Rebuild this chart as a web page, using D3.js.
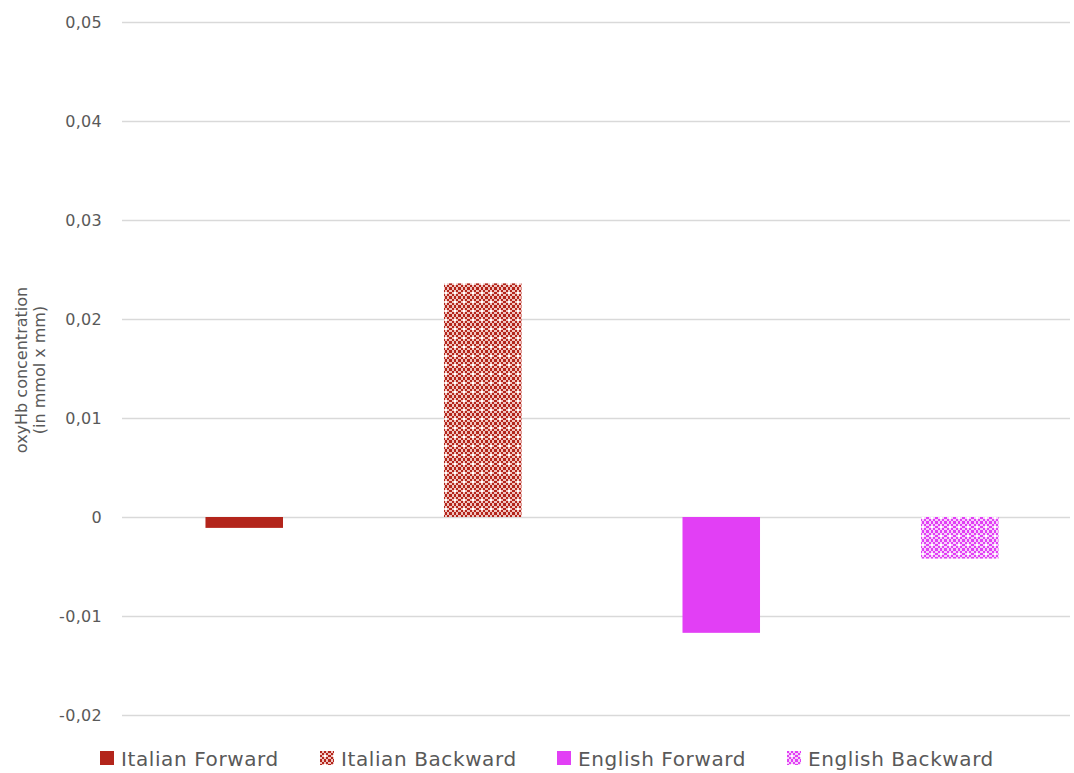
<!DOCTYPE html>
<html><head><meta charset="utf-8">
<script src="https://cdn.jsdelivr.net/npm/d3@7"></script>
<style>body{margin:0;background:#fff;} svg{display:block;}</style>
</head><body>
<svg id="c" width="1074" height="773"></svg>
<script>
const series = ["Italian Forward", "Italian Backward", "English Forward", "English Backward"];
const values = [-0.0011, 0.0236, -0.0117, -0.0042];
const yTicks = [-0.02, -0.01, 0, 0.01, 0.02, 0.03, 0.04, 0.05];
const yTickLabels = ["-0,02", "-0,01", "0", "0,01", "0,02", "0,03", "0,04", "0,05"];
const axisTitle = ["oxyHb concentration", "(in mmol x mm)"];

const svg = d3.select("#c");
const font = "DejaVu Sans, Verdana, sans-serif";
const textColor = "#595959";
const red = "#b3251b", mag = "#e23ff5";

const defs = svg.append("defs");
function checker(id, col, light) {
  const p = defs.append("pattern").attr("id", id).attr("patternUnits", "userSpaceOnUse")
    .attr("width", 9).attr("height", 9);
  p.append("rect").attr("width", 9).attr("height", 9).attr("fill", light);
  for (let i = 0; i < 9; i += 2) for (let j = 0; j < 9; j += 2) {
    if (((i + j) / 2) % 2 === 0) p.append("rect").attr("x", i).attr("y", j).attr("width", 2).attr("height", 2).attr("fill", col);
  }
  p.append("rect").attr("x", 4).attr("y", 4).attr("width", 2).attr("height", 2).attr("fill", "#fff");
}
checker("patRed", red, "#f0c4c0");
checker("patMag", mag, "#f7d0fb");
const fills = [red, "url(#patRed)", mag, "url(#patMag)"];

const y = d3.scaleLinear().domain([-0.02, 0.05]).range([715, 22]);
const x = d3.scaleBand().domain(series).range([122, 1082]).paddingInner(0.675).paddingOuter(0.35);

// grid
const grid = svg.append("g").call(d3.axisLeft(y).tickValues(yTicks).tickSize(-(1070 - 122)).tickFormat(""))
  .attr("transform", "translate(122,0)");
grid.select(".domain").remove();
grid.selectAll("line").attr("stroke", "#d9d9d9").attr("stroke-width", 1.3);

// tick labels
const ax = svg.append("g").attr("transform", "translate(102,0)")
  .call(d3.axisLeft(y).tickValues(yTicks).tickSize(0).tickPadding(0).tickFormat((d, i) => yTickLabels[i]));
ax.select(".domain").remove();
ax.attr("font-size", null).attr("font-family", null);
ax.selectAll("text").style("font-family", font).style("font-size", "16px").attr("fill", textColor)
  .style("letter-spacing", "0.3px");

// bars
svg.append("g").selectAll("rect").data(series).join("rect")
  .attr("x", d => x(d)).attr("width", x.bandwidth())
  .attr("y", (d, i) => y(Math.max(0, values[i])))
  .attr("height", (d, i) => Math.abs(y(values[i]) - y(0)))
  .attr("fill", (d, i) => fills[i]);

// axis title
svg.append("g").selectAll("text").data(axisTitle).join("text")
  .attr("transform", (d, i) => `translate(${27 + i * 18},370) rotate(-90)`)
  .attr("text-anchor", "middle").style("font-family", font).style("font-size", "16px")
  .attr("fill", textColor).text(d => d);

// legend
const legX = [100, 320, 557, 787];
const lg = svg.append("g").selectAll("g").data(series).join("g")
  .attr("transform", (d, i) => `translate(${legX[i]},751)`);
lg.append("rect").attr("width", 14).attr("height", 14).attr("fill", (d, i) => fills[i]);
lg.append("text").attr("x", 21).attr("y", 15).style("font-family", font).style("font-size", "20px")
  .style("letter-spacing", "0.6px").attr("fill", textColor).text(d => d);
</script>
</body></html>
